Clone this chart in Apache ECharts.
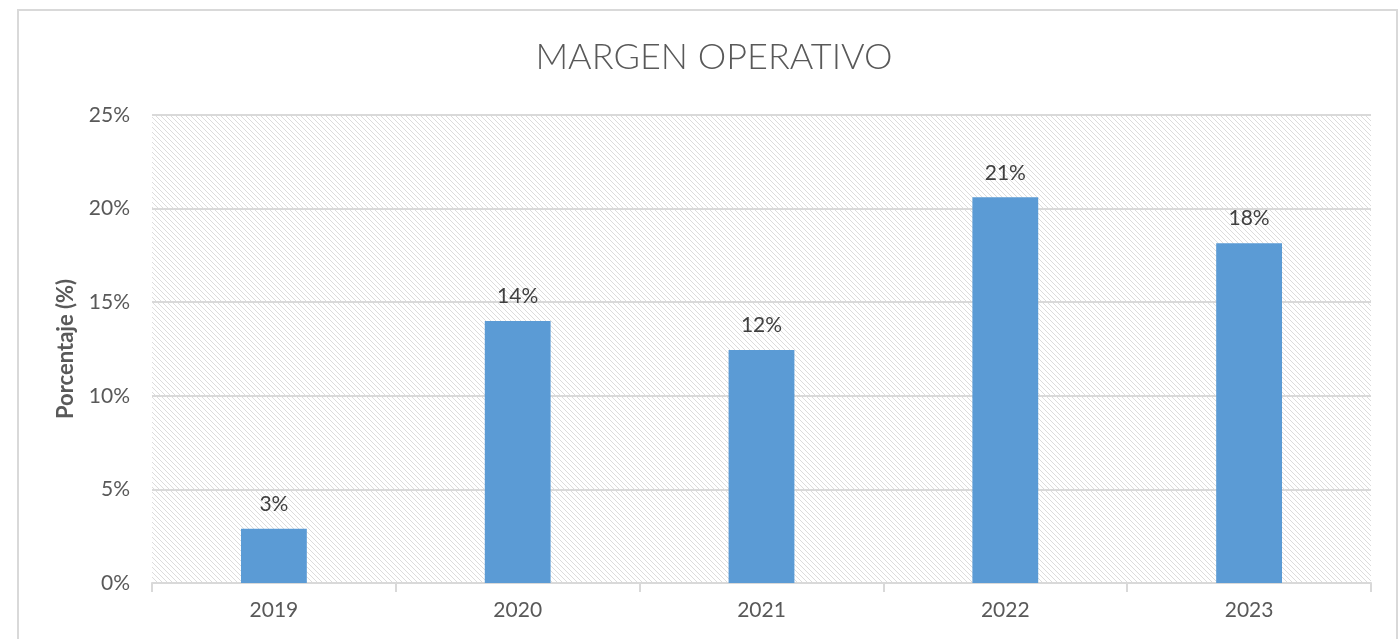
<!DOCTYPE html>
<html>
<head>
<meta charset="utf-8">
<script src="https://cdn.jsdelivr.net/npm/echarts@6/dist/echarts.min.js"></script>
<style>
  html, body { margin: 0; padding: 0; background: #fff; }
  #chart { width: 1400px; height: 639px; }
</style>
</head>
<body>
<div id="chart"></div>
<script>
const years = ['2019', '2020', '2021', '2022', '2023'];
const margen = [2.9, 14.0, 12.45, 20.6, 18.15];
const yTicks = [0, 5, 10, 15, 20, 25];

// hatch pattern for plot background
function hatch() {
  const c = document.createElement('canvas');
  c.width = 5; c.height = 5;
  const ctx = c.getContext('2d');
  ctx.fillStyle = '#fff';
  ctx.fillRect(0, 0, 5, 5);
  ctx.fillStyle = '#dcdcdc';
  for (let i = 0; i < 5; i++) ctx.fillRect(i, i, 1, 1);
  return c;
}

const chart = echarts.init(document.getElementById('chart'));
const font = 'Lato, "Open Sans", sans-serif';

chart.setOption({
  animation: false,
  textStyle: { fontFamily: font },
  title: {
    text: 'MARGEN OPERATIVO',
    left: 709,
    textAlign: 'center',
    top: 34,
    textStyle: { fontSize: 36, fontWeight: 300, color: '#595959', fontFamily: font }
  },
  graphic: [{
    type: 'rect',
    shape: { x: 18, y: 10, width: 1379, height: 660 },
    style: { fill: 'none', stroke: '#d9d9d9', lineWidth: 2 },
    z: -1
  }],
  grid: {
    left: 152, right: 29, top: 115, bottom: 56,
    show: true,
    borderWidth: 0,
    backgroundColor: { image: hatch(), repeat: 'repeat' }
  },
  xAxis: {
    type: 'category',
    data: years,
    axisLine: { lineStyle: { color: '#d9d9d9', width: 2 } },
    axisTick: { show: true, length: 9, lineStyle: { color: '#d9d9d9', width: 2 } },
    axisLabel: { color: '#595959', fontSize: 21, margin: 17 }
  },
  yAxis: {
    type: 'value',
    min: yTicks[0],
    max: yTicks[yTicks.length - 1],
    interval: 5,
    name: 'Porcentaje (%)',
    nameLocation: 'middle',
    nameGap: 75,
    nameTextStyle: { color: '#595959', fontSize: 22, fontWeight: 'bold' },
    axisLine: { show: false },
    axisTick: { show: false },
    axisLabel: { color: '#595959', fontSize: 21, margin: 22, formatter: v => v + '%' },
    splitLine: { lineStyle: { color: '#d9d9d9', width: 2 } }
  },
  series: [{
    type: 'bar',
    data: margen,
    barWidth: '27%',
    itemStyle: { color: '#5b9bd5' },
    label: {
      show: true,
      position: 'top',
      distance: 14,
      color: '#404040',
      fontSize: 21,
      formatter: p => Math.round(p.value) + '%'
    }
  }]
});
</script>
</body>
</html>
